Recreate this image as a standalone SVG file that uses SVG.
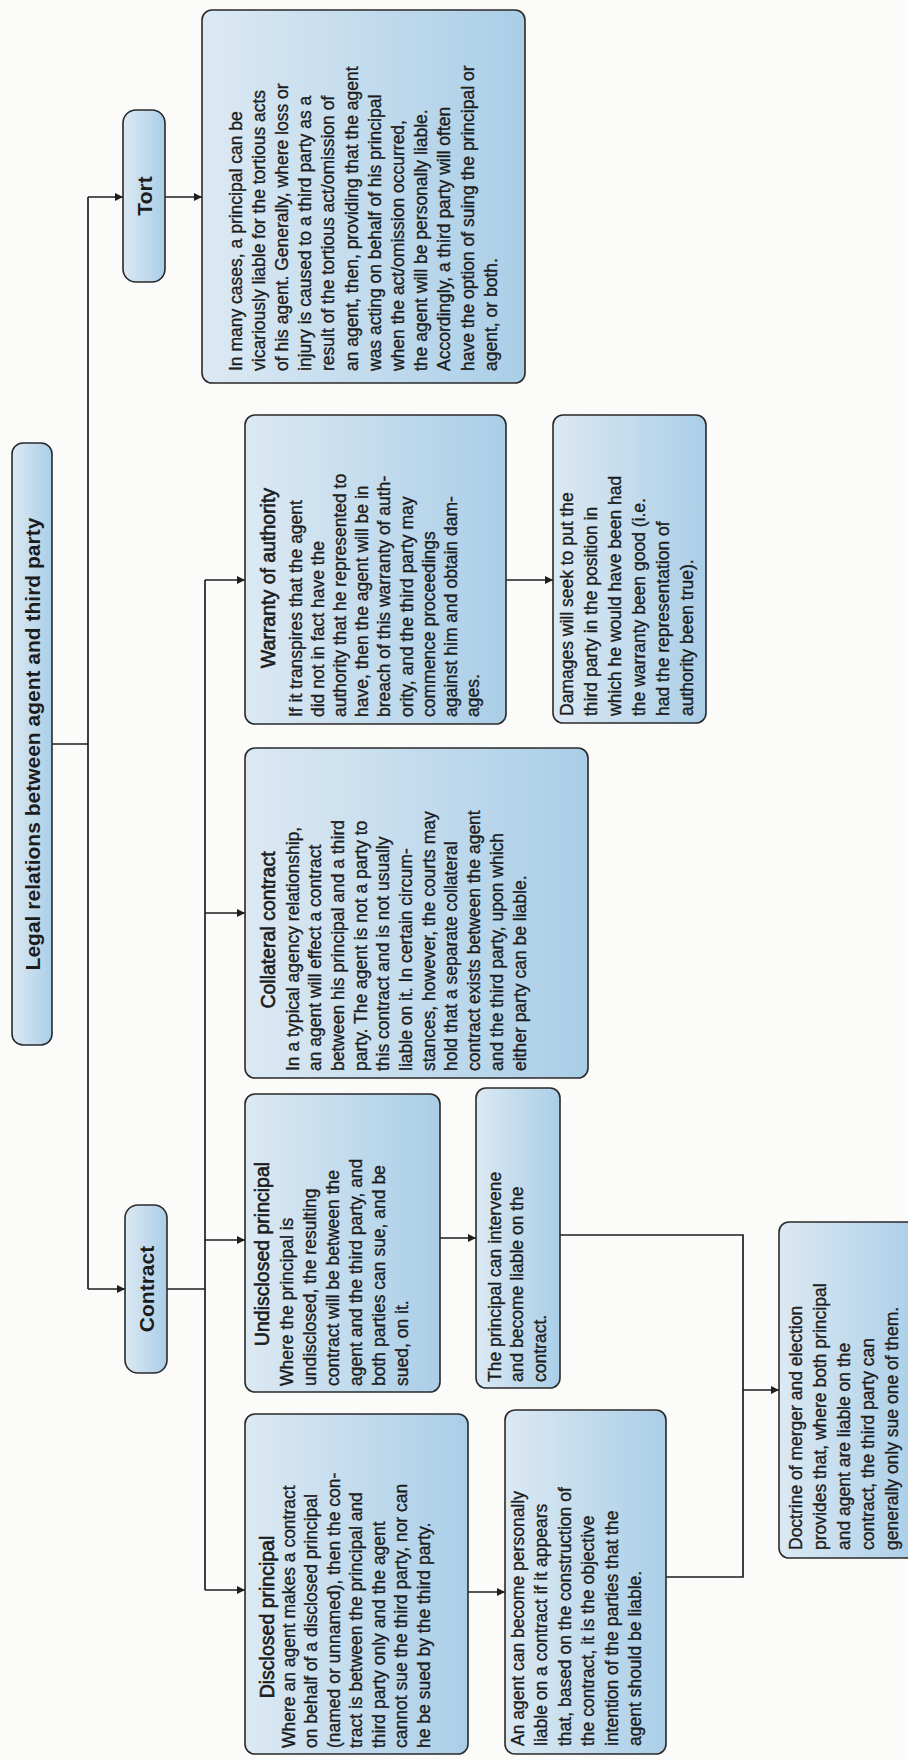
<svg xmlns="http://www.w3.org/2000/svg" width="908" height="1760" viewBox="0 0 908 1760">
<defs>
<linearGradient id="g" x1="0" y1="0" x2="0" y2="1">
<stop offset="0" stop-color="#dce9f3"/>
<stop offset="1" stop-color="#aacee7"/>
</linearGradient>
<marker id="ah" viewBox="0 0 10 10" refX="10" refY="5" markerWidth="10" markerHeight="8" markerUnits="userSpaceOnUse" orient="auto"><path d="M0,0 L10,5 L0,10 z" fill="#1e1e1e"/></marker>
<style>
.box{fill:url(#g);stroke:#2a2a2a;stroke-width:1.6}
.t{font-family:"Liberation Sans",Arial,sans-serif;font-size:17.5px;fill:#1c1c1c;stroke:#1c1c1c;stroke-width:0.35}
.ti{font-family:"Liberation Sans",Arial,sans-serif;font-size:19.5px;fill:#1c1c1c;stroke:#1c1c1c;stroke-width:0.6;text-anchor:middle}
.h{font-family:"Liberation Sans",Arial,sans-serif;font-size:21px;font-weight:bold;fill:#1c1c1c;text-anchor:middle;dominant-baseline:central}
.c{fill:none;stroke:#1e1e1e;stroke-width:1.7}
.a{marker-end:url(#ah)}
</style>
</defs>
<rect x="0" y="0" width="908" height="1760" fill="#fbfbfa"/>

<g id="connectors">
<path class="c" d="M52,744 H88"/>
<path class="c" d="M88,197 V1289"/>
<path class="c a" d="M88,197 H123"/>
<path class="c a" d="M88,1289 H125"/>
<path class="c a" d="M165,197 H202"/>
<path class="c" d="M167,1289 H205"/>
<path class="c" d="M205,580 V1590"/>
<path class="c a" d="M205,580 H245"/>
<path class="c a" d="M205,913 H245"/>
<path class="c a" d="M205,1240 H245"/>
<path class="c a" d="M205,1590 H245"/>
<path class="c a" d="M506,580 H553"/>
<path class="c a" d="M440,1238 H476"/>
<path class="c a" d="M468,1592 H505"/>
<path class="c" d="M560,1235 H743 V1577 H666"/>
<path class="c a" d="M743,1390 H779"/>
</g>

<g id="root" transform="translate(12,1045) rotate(-90)">
<rect class="box" x="0" y="0" width="602" height="40" rx="11"/>
<text class="h" x="301" y="20">Legal relations between agent and third party</text>
</g>

<g id="tort" transform="translate(123,282) rotate(-90)">
<rect class="box" x="0" y="0" width="172" height="42" rx="13"/>
<text class="h" x="86" y="21">Tort</text>
</g>

<g id="contract" transform="translate(125,1373) rotate(-90)">
<rect class="box" x="0" y="0" width="168" height="42" rx="13"/>
<text class="h" x="84" y="21">Contract</text>
</g>

<g id="tort-detail" transform="translate(202,383) rotate(-90)">
<rect class="box" x="0" y="0" width="373" height="323" rx="10"/>
<text class="t">
<tspan x="12" y="39.5">In many cases, a principal can be</tspan>
<tspan x="12" y="62.7">vicariously liable for the tortious acts</tspan>
<tspan x="12" y="85.9">of his agent. Generally, where loss or</tspan>
<tspan x="12" y="109.1">injury is caused to a third party as a</tspan>
<tspan x="12" y="132.3">result of the tortious act/omission of</tspan>
<tspan x="12" y="155.5">an agent, then, providing that the agent</tspan>
<tspan x="12" y="178.7">was acting on behalf of his principal</tspan>
<tspan x="12" y="201.9">when the act/omission occurred,</tspan>
<tspan x="12" y="225.1">the agent will be personally liable.</tspan>
<tspan x="12" y="248.3">Accordingly, a third party will often</tspan>
<tspan x="12" y="271.5">have the option of suing the principal or</tspan>
<tspan x="12" y="294.7">agent, or both.</tspan>
</text>
</g>

<g id="warranty" transform="translate(245,724) rotate(-90)">
<rect class="box" x="0" y="0" width="309" height="261" rx="10"/>
<text class="ti" x="146" y="29.5">Warranty of authority</text>
<text class="t">
<tspan x="7" y="56.5">If it transpires that the agent</tspan>
<tspan x="7" y="78.7">did not in fact have the</tspan>
<tspan x="7" y="100.9">authority that he represented to</tspan>
<tspan x="7" y="123.1">have, then the agent will be in</tspan>
<tspan x="7" y="145.3">breach of this warranty of auth-</tspan>
<tspan x="7" y="167.5">ority, and the third party may</tspan>
<tspan x="7" y="189.7">commence proceedings</tspan>
<tspan x="7" y="211.9">against him and obtain dam-</tspan>
<tspan x="7" y="234.1">ages.</tspan>
</text>
</g>

<g id="damages" transform="translate(553,723) rotate(-90)">
<rect class="box" x="0" y="0" width="308" height="153" rx="10"/>
<text class="t">
<tspan x="7" y="19.5">Damages will seek to put the</tspan>
<tspan x="7" y="43.5">third party in the position in</tspan>
<tspan x="7" y="67.5">which he would have been had</tspan>
<tspan x="7" y="91.5">the warranty been good (i.e.</tspan>
<tspan x="7" y="115.5">had the representation of</tspan>
<tspan x="7" y="139.5">authority been true).</tspan>
</text>
</g>

<g id="collateral" transform="translate(245,1078) rotate(-90)">
<rect class="box" x="0" y="0" width="330" height="343" rx="10"/>
<text class="ti" x="148" y="29.5">Collateral contract</text>
<text class="t">
<tspan x="7" y="53.5">In a typical agency relationship,</tspan>
<tspan x="7" y="76.2">an agent will effect a contract</tspan>
<tspan x="7" y="98.9">between his principal and a third</tspan>
<tspan x="7" y="121.6">party. The agent is not a party to</tspan>
<tspan x="7" y="144.3">this contract and is not usually</tspan>
<tspan x="7" y="167">liable on it. In certain circum-</tspan>
<tspan x="7" y="189.7">stances, however, the courts may</tspan>
<tspan x="7" y="212.4">hold that a separate collateral</tspan>
<tspan x="7" y="235.1">contract exists between the agent</tspan>
<tspan x="7" y="257.8">and the third party, upon which</tspan>
<tspan x="7" y="280.5">either party can be liable.</tspan>
</text>
</g>

<g id="undisclosed" transform="translate(245,1392) rotate(-90)">
<rect class="box" x="0" y="0" width="298" height="195" rx="10"/>
<text class="ti" x="138" y="23.5">Undisclosed principal</text>
<text class="t">
<tspan x="6" y="47.5">Where the principal is</tspan>
<tspan x="6" y="70.5">undisclosed, the resulting</tspan>
<tspan x="6" y="93.5">contract will be between the</tspan>
<tspan x="6" y="116.5">agent and the third party, and</tspan>
<tspan x="6" y="139.5">both parties can sue, and be</tspan>
<tspan x="6" y="162.5">sued, on it.</tspan>
</text>
</g>

<g id="intervene" transform="translate(476,1388) rotate(-90)">
<rect class="box" x="0" y="0" width="300" height="84" rx="10"/>
<text class="t">
<tspan x="6" y="24.5">The principal can intervene</tspan>
<tspan x="6" y="47">and become liable on the</tspan>
<tspan x="6" y="69.5">contract.</tspan>
</text>
</g>

<g id="disclosed" transform="translate(245,1754) rotate(-90)">
<rect class="box" x="0" y="0" width="340" height="223" rx="10"/>
<text class="ti" x="137" y="28.5">Disclosed principal</text>
<text class="t">
<tspan x="6" y="49.5">Where an agent makes a contract</tspan>
<tspan x="6" y="72">on behalf of a disclosed principal</tspan>
<tspan x="6" y="94.5">(named or unnamed), then the con-</tspan>
<tspan x="6" y="117">tract is between the principal and</tspan>
<tspan x="6" y="139.5">third party only and the agent</tspan>
<tspan x="6" y="162">cannot sue the third party, nor can</tspan>
<tspan x="6" y="184.5">he be sued by the third party.</tspan>
</text>
</g>

<g id="agent-liable" transform="translate(505,1754) rotate(-90)">
<rect class="box" x="0" y="0" width="344" height="161" rx="10"/>
<text class="t">
<tspan x="8" y="18.5">An agent can become personally</tspan>
<tspan x="8" y="42">liable on a contract if it appears</tspan>
<tspan x="8" y="65.5">that, based on the construction of</tspan>
<tspan x="8" y="89">the contract, it is the objective</tspan>
<tspan x="8" y="112.5">intention of the parties that the</tspan>
<tspan x="8" y="136">agent should be liable.</tspan>
</text>
</g>

<g id="doctrine" transform="translate(779,1558) rotate(-90)">
<rect class="box" x="0" y="0" width="336" height="140" rx="10"/>
<text class="t">
<tspan x="8" y="22.5">Doctrine of merger and election</tspan>
<tspan x="8" y="46.5">provides that, where both principal</tspan>
<tspan x="8" y="70.5">and agent are liable on the</tspan>
<tspan x="8" y="94.5">contract, the third party can</tspan>
<tspan x="8" y="118.5">generally only sue one of them.</tspan>
</text>
</g>
</svg>
